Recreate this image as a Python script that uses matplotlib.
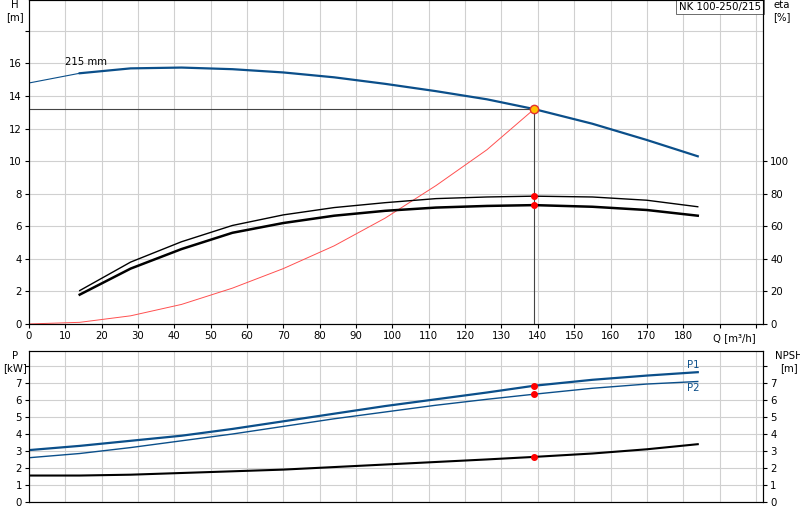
import matplotlib
matplotlib.use("Agg")
import matplotlib.pyplot as plt

Q = [0, 14, 28, 42, 56, 70, 84, 98, 112, 126, 139, 155, 170, 184]
H = [14.8, 15.4, 15.7, 15.75, 15.65, 15.45, 15.15, 14.75, 14.3, 13.8, 13.2, 12.3, 11.3, 10.3]
Q_ETA = Q[1:]
ETA1 = [20.5, 38, 50.5, 60.5, 67, 71.5, 74.5, 77, 78, 78.5, 78, 76, 72]
ETA2 = [18, 34, 46, 56, 62, 66.5, 69.5, 71.5, 72.5, 73, 72, 70, 66.5]
Q_SYS = [0, 14, 28, 42, 56, 70, 84, 98, 112, 126, 139]
H_SYS = [0, 0.1, 0.5, 1.2, 2.2, 3.4, 4.8, 6.5, 8.5, 10.7, 13.2]
P1 = [3.05, 3.3, 3.6, 3.9, 4.3, 4.75, 5.2, 5.65, 6.05, 6.45, 6.85, 7.2, 7.45, 7.65]
P2 = [2.6, 2.85, 3.2, 3.6, 4.0, 4.45, 4.9, 5.3, 5.7, 6.05, 6.35, 6.7, 6.95, 7.1]
NPSH = [1.55, 1.55, 1.6, 1.7, 1.8, 1.9, 2.05, 2.2, 2.35, 2.5, 2.65, 2.85, 3.1, 3.4]
Q_OP, H_OP = 139, 13.2
ETA1_OP, ETA2_OP = 78.5, 73
P1_OP, P2_OP, NPSH_OP = 6.85, 6.35, 2.65

BLUE = "#0b4f8a"
GRID = "#d0d0d0"
FS = 7.3
XMAX = 202
plt.rcParams["font.size"] = FS

fig = plt.figure(figsize=(8, 5.2), dpi=100)
ax = fig.add_axes([0.036, 0.377, 0.918, 0.623])
axb = fig.add_axes([0.036, 0.035, 0.918, 0.29])

for a in (ax, axb):
    a.set_xlim(0, XMAX)
    a.set_xticks(range(0, 201, 10))
    a.grid(color=GRID, lw=0.8)
    a.set_axisbelow(True)
    a.tick_params(length=3, pad=2, labelsize=FS)
    for s in a.spines.values():
        s.set_color("#333333")

ax.set_ylim(0, 19.9)
ax.set_yticks(range(0, 19, 2))
ax.set_yticklabels([str(v) if v <= 16 else "" for v in range(0, 19, 2)])
ax.set_xticklabels([str(v) for v in range(0, 190, 10)] + ["", ""])
ax.text(200, -0.55, "Q [m³/h]", ha="right", va="top", fontsize=FS)
ax.text(-3.8, 19.9, "H\n[m]", ha="center", va="top", fontsize=FS)

# H curve (thin extrapolated start)
ax.plot(Q[:2], H[:2], color=BLUE, lw=0.8)
ax.plot(Q[1:], H[1:], color=BLUE, lw=1.6)
ax.text(10, 15.9, "215 mm", fontsize=FS)
# eta curves
ax2 = ax.twinx()
ax2.set_ylim(0, 199)
ax2.set_yticks(range(0, 101, 20))
ax2.tick_params(length=3, pad=2, labelsize=FS)
ax2.text(XMAX + 5, 199, "eta\n[%]", ha="center", va="top", fontsize=FS)
ax2.plot(Q_ETA, ETA1, color="black", lw=1.0)
ax2.plot(Q_ETA, ETA2, color="black", lw=1.8)
ax2.plot([Q_OP, Q_OP], [ETA1_OP, ETA2_OP], "o", color="red", ms=4)
# system curve + duty point
ax.plot(Q_SYS, H_SYS, color="#ff5050", lw=0.7)
ax.plot([0, Q_OP], [H_OP, H_OP], color="#444444", lw=0.8)
ax.plot([Q_OP, Q_OP], [0, H_OP], color="#444444", lw=0.8)
ax.plot(Q_OP, H_OP, "o", color="#ffc000", mec="#e03030", ms=6, zorder=5)
ax.text(0.997, 0.995, "NK 100-250/215", transform=ax.transAxes, ha="right", va="top",
        fontsize=FS, bbox=dict(fc="white", ec="#555555", lw=0.6, pad=2))

# bottom: power and NPSH
axb.set_ylim(0, 8.9)
axb.set_yticks(range(0, 9))
axb.set_yticklabels([str(v) for v in range(0, 8)] + [""])
axb.set_xticklabels([])
axb.tick_params(axis="x", length=0)
axb.text(-3.8, 8.9, "P\n[kW]", ha="center", va="top", fontsize=FS)
axb.plot(Q, P1, color=BLUE, lw=1.6)
axb.plot(Q, P2, color=BLUE, lw=1.0)
axb.plot(Q, NPSH, color="black", lw=1.5)
axb.plot([Q_OP] * 3, [P1_OP, P2_OP, NPSH_OP], "o", color="red", ms=4)
axb.text(181, P1[-1] + 0.15, "P1", color=BLUE, fontsize=FS, va="bottom")
axb.text(181, P2[-1] - 0.1, "P2", color=BLUE, fontsize=FS, va="top")
axb3 = axb.twinx()
axb3.set_ylim(0, 8.9)
axb3.set_yticks(range(0, 9))
axb3.set_yticklabels([str(v) for v in range(0, 8)] + [""])
axb3.tick_params(length=3, pad=2, labelsize=FS)
axb3.text(XMAX + 7, 8.9, "NPSH\n[m]", ha="center", va="top", fontsize=FS)

fig.savefig("out.png", dpi=100)
